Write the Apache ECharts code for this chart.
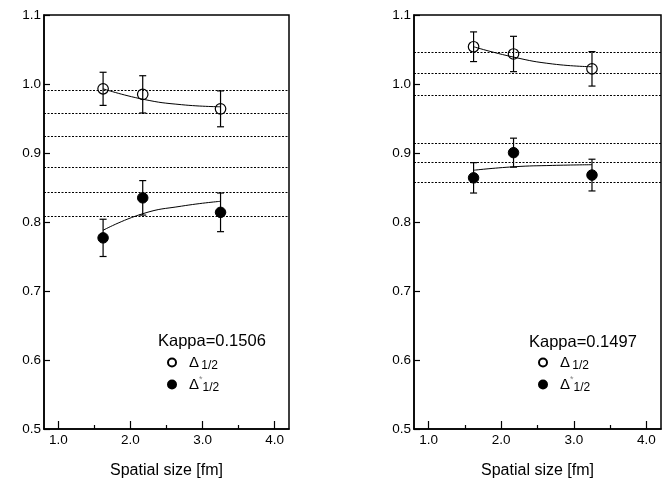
<!DOCTYPE html>
<html>
<head>
<meta charset="utf-8">
<script src="https://cdn.jsdelivr.net/npm/echarts@6/dist/echarts.min.js"></script>
<style>
  html, body { margin: 0; padding: 0; background: #fff; }
  #chart { width: 672px; height: 480px; }
</style>
</head>
<body>
<div id="chart"></div>
<script>
// Spatial sizes of the lattices [fm]
const sizes = [1.62, 2.17, 3.25];
const fitSizes = [1.62, 2.17, 2.71, 3.25];

// Axis tick values
const xMajorTicks = [1, 2, 3, 4];
const xMinorTicks = [1.5, 2.5, 3.5];
const yTicks = [0.5, 0.6, 0.7, 0.8, 0.9, 1.0, 1.1];

// Kappa = 0.1506
const kappaLeft = 'Kappa=0.1506';
const leftOpen = [0.993, 0.985, 0.964];
const leftOpenErr = [0.024, 0.027, 0.026];
const leftFilled = [0.777, 0.835, 0.814];
const leftFilledErr = [0.027, 0.025, 0.028];
const leftOpenFit = [0.993, 0.978, 0.970, 0.967];
const leftFilledFit = [0.788, 0.812, 0.823, 0.830];
const leftLevels = [0.991, 0.9575, 0.9245, 0.879, 0.8435, 0.808];

// Kappa = 0.1497
const kappaRight = 'Kappa=0.1497';
const rightOpen = [1.054, 1.0435, 1.022];
const rightOpenErr = [0.0215, 0.0256, 0.025];
const rightFilled = [0.864, 0.9005, 0.868];
const rightFilledErr = [0.022, 0.021, 0.023];
const rightOpenFit = [1.054, 1.039, 1.029, 1.025];
const rightFilledFit = [0.875, 0.880, 0.882, 0.883];
const rightLevels = [1.046, 1.015, 0.9835, 0.914, 0.886, 0.857];

const OPEN = 'Δ 1/2';
const FILLED = 'Δ* 1/2';
const FONT = 'Liberation Sans, Arial, Helvetica, sans-serif';

const chart = echarts.init(document.getElementById('chart'), null, { renderer: 'canvas' });

function pairs(xs, ys) { return xs.map((x, i) => [x, ys[i]]); }

function errorSeries(idx, ys, errs) {
  return {
    type: 'custom',
    xAxisIndex: idx * 2, yAxisIndex: idx,
    silent: true, z: 3,
    data: sizes.map((x, i) => [x, ys[i] - errs[i], ys[i] + errs[i]]),
    renderItem(params, api) {
      const lo = api.coord([api.value(0), api.value(1)]);
      const hi = api.coord([api.value(0), api.value(2)]);
      const cap = 3.5;
      const st = { stroke: '#000', lineWidth: 1.2, fill: null };
      return {
        type: 'group',
        children: [
          { type: 'line', shape: { x1: lo[0], y1: lo[1], x2: hi[0], y2: hi[1] }, style: st },
          { type: 'line', shape: { x1: lo[0] - cap, y1: lo[1], x2: lo[0] + cap, y2: lo[1] }, style: st },
          { type: 'line', shape: { x1: hi[0] - cap, y1: hi[1], x2: hi[0] + cap, y2: hi[1] }, style: st }
        ]
      };
    }
  };
}

function fitSeries(idx, ys) {
  return {
    type: 'line', xAxisIndex: idx * 2, yAxisIndex: idx,
    data: pairs(fitSizes, ys), smooth: true, symbol: 'none', silent: true, z: 2,
    lineStyle: { color: '#000', width: 1 }
  };
}

function levelSeries(idx, levels) {
  return {
    type: 'line', xAxisIndex: idx * 2, yAxisIndex: idx, data: [], silent: true,
    markLine: {
      silent: true, symbol: ['none', 'none'], animation: false, precision: 4,
      label: { show: false },
      lineStyle: { color: '#000', width: 1, type: [2, 1.5] },
      data: levels.map(v => ({ yAxis: v }))
    }
  };
}

function pointSeries(idx, name, ys, filled) {
  return {
    type: 'scatter', name, xAxisIndex: idx * 2, yAxisIndex: idx,
    data: pairs(sizes, ys), symbol: 'circle', symbolSize: 10.5, z: 4,
    itemStyle: filled
      ? { color: '#000', borderColor: '#000', borderWidth: 1, opacity: 1 }
      : { color: 'rgba(255,255,255,0)', borderColor: '#000', borderWidth: 1.2, opacity: 1 }
  };
}

function xAxes(gridIndex) {
  return [
    {
      type: 'value', gridIndex, min: 0.8, max: 4.2, position: 'bottom',
      name: 'Spatial size [fm]', nameLocation: 'middle', nameGap: 34,
      nameTextStyle: { fontFamily: FONT, fontSize: 16, color: '#000' },
      axisLine: { show: true, lineStyle: { color: '#000', width: 1.5 } },
      axisTick: { show: true, inside: true, length: 8, customValues: xMajorTicks,
                  lineStyle: { color: '#000', width: 1.2 } },
      axisLabel: { show: true, customValues: xMajorTicks, margin: 4,
                   formatter: v => v.toFixed(1),
                   fontFamily: FONT, fontSize: 13.5, color: '#000' },
      splitLine: { show: false }
    },
    {
      type: 'value', gridIndex, min: 0.8, max: 4.2, position: 'bottom',
      axisLine: { show: false },
      axisTick: { show: true, inside: true, length: 4, customValues: xMinorTicks,
                  lineStyle: { color: '#000', width: 1.2 } },
      axisLabel: { show: false },
      splitLine: { show: false }
    }
  ];
}

function yAxis(gridIndex) {
  return {
    type: 'value', gridIndex, min: 0.5, max: 1.1,
    axisLine: { show: true, lineStyle: { color: '#000', width: 1.5 } },
    axisTick: { show: true, inside: true, length: 6, customValues: yTicks,
                lineStyle: { color: '#000', width: 1.2 } },
    axisLabel: { show: true, customValues: yTicks, margin: 3,
                 formatter: v => v.toFixed(1),
                 fontFamily: FONT, fontSize: 13.5, color: '#000' },
    splitLine: { show: false }
  };
}

const legendRich = {
  d: { fontFamily: FONT, fontSize: 15, color: '#000', padding: [0, 0, 0, 8] },
  sp: { fontSize: 8 },
  st: { fontFamily: FONT, fontSize: 9, color: '#888', verticalAlign: 'top', padding: [0, 0, 6, 0] },
  s: { fontFamily: FONT, fontSize: 12, color: '#000', verticalAlign: 'bottom', padding: [6, 0, 0, 0] }
};

function legend(left, top) {
  return {
    orient: 'vertical', left, top, itemWidth: 8, itemHeight: 8, itemGap: 4,
    selectedMode: false, padding: 0,
    data: [OPEN, FILLED],
    formatter: n => n === OPEN ? '{d|Δ}{sp| }{s|1/2}' : '{d|Δ}{st|*}{s|1/2}',
    textStyle: { rich: legendRich }
  };
}

const gridBase = {
  top: 15, height: 414, show: true, outerBoundsMode: 'none', containLabel: false,
  borderColor: '#000', borderWidth: 1.5, backgroundColor: 'transparent'
};

chart.setOption({
  animation: false,
  backgroundColor: '#fff',
  title: [
    { text: kappaLeft, left: 158, top: 333, padding: 0,
      textStyle: { fontFamily: FONT, fontSize: 16.5, fontWeight: 'normal', color: '#000' } },
    { text: kappaRight, left: 529, top: 334, padding: 0,
      textStyle: { fontFamily: FONT, fontSize: 16.5, fontWeight: 'normal', color: '#000' } }
  ],
  legend: [legend(167, 355), legend(538, 355)],
  grid: [
    Object.assign({ left: 44, width: 245 }, gridBase),
    Object.assign({ left: 414, width: 247 }, gridBase)
  ],
  xAxis: [...xAxes(0), ...xAxes(1)],
  yAxis: [yAxis(0), yAxis(1)],
  series: [
    levelSeries(0, leftLevels),
    fitSeries(0, leftOpenFit),
    fitSeries(0, leftFilledFit),
    errorSeries(0, leftOpen, leftOpenErr),
    errorSeries(0, leftFilled, leftFilledErr),
    pointSeries(0, OPEN, leftOpen, false),
    pointSeries(0, FILLED, leftFilled, true),

    levelSeries(1, rightLevels),
    fitSeries(1, rightOpenFit),
    fitSeries(1, rightFilledFit),
    errorSeries(1, rightOpen, rightOpenErr),
    errorSeries(1, rightFilled, rightFilledErr),
    pointSeries(1, OPEN, rightOpen, false),
    pointSeries(1, FILLED, rightFilled, true)
  ]
});
</script>
</body>
</html>
